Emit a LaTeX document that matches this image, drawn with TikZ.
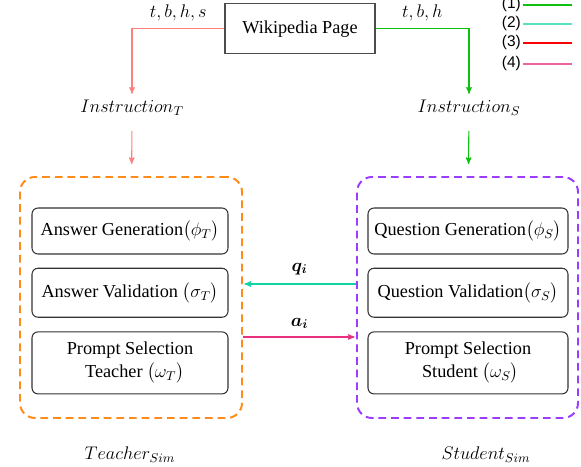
\RequirePackage{fix-cm}
\documentclass[tikz,border=0pt]{standalone}
\usepackage{amsmath}
\usepackage{fontspec}
\setmainfont{Liberation Serif}
\setsansfont{Liberation Sans}
\usetikzlibrary{arrows,positioning}

\definecolor{salmon}{HTML}{FF7F7F}
\definecolor{leafgreen}{HTML}{10C010}
\definecolor{qteal}{HTML}{10D4A4}
\definecolor{apink}{HTML}{E8307F}
\definecolor{simorange}{HTML}{FF8C1A}
\definecolor{simpurple}{HTML}{9B3CFF}

\begin{document}
\begin{tikzpicture}[->,>=stealth',shorten >=1pt,line width=0.75pt,
                    font=\fontsize{13}{16}\selectfont,
                    page node/.style={rectangle,draw=black!70,minimum width=3.75cm,minimum height=1.25cm},
                    sim frame/.style={rectangle,rounded corners=0.375cm,dash pattern=on 5.5pt off 3.5pt,
                                      line width=1.4pt,minimum width=5.55cm,minimum height=6.025cm},
                    module/.style={rectangle,rounded corners=0.15cm,draw=black!80,align=center,minimum height=1.15cm},
                    legend/.style={font=\sffamily\fontsize{11}{12}\selectfont,anchor=east,inner sep=1pt}]

  \useasboundingbox (0,0) rectangle (14.525,-11.675);

  \node[page node] (wiki) at (7.5,-0.72) {Wikipedia Page};
  \node (instT) at (3.3,-2.7) {$Instruction_T$};
  \node (instS) at (11.725,-2.7) {$Instruction_S$};

  \node[sim frame,draw=simorange] (teacher) at (3.275,-7.4375) {};
  \node[sim frame,draw=simpurple,minimum width=5.525cm] (student) at (11.6875,-7.4375) {};

  \node[module,minimum width=4.9cm] (genT) at (3.25,-5.775) {Answer Generation$\big(\phi_T\big)$};
  \node[module,minimum width=4.9cm,minimum height=1.225cm] (valT) [below=0.33cm of genT] {Answer Validation $\big(\sigma_T\big)$};
  \node[module,minimum width=4.9cm,minimum height=1.55cm] (selT) [below=0.34cm of valT] {Prompt Selection\\ \ \ Teacher $\big(\omega_T\big)$};

  \node[module,minimum width=5cm] (genS) at (11.7,-5.775) {Question Generation$\big(\phi_S\big)$};
  \node[module,minimum width=5cm,minimum height=1.225cm] (valS) [below=0.33cm of genS] {Question Validation$\big(\sigma_S\big)$};
  \node[module,minimum width=5cm,minimum height=1.55cm] (selS) [below=0.34cm of valS] {Prompt Selection\\ \ Student $\big(\omega_S\big)$};

  \node (simT) at (3.25,-11.375) {$Teacher_{Sim}$};
  \node (simS) at (12.15,-11.375) {$Student_{Sim}$};

  \node[legend] (l1) at (13.07,-0.125) {(1)};
  \node[legend] (l2) at (13.07,-0.6) {(2)};
  \node[legend] (l3) at (13.07,-1.075) {(3)};
  \node[legend] (l4) at (13.07,-1.6) {(4)};
  \coordinate (e1) at (14.33,-0.125);
  \coordinate (e2) at (14.33,-0.6);
  \coordinate (e3) at (14.33,-1.075);
  \coordinate (e4) at (14.33,-1.6);

  \draw[salmon] (wiki.west) -| node[pos=0.25,above=2pt,black] {$t,b,h,s$} (instT.north);
  \draw[leafgreen] (wiki.east) -| node[pos=0.25,above=2pt,black] {$t,b,h$} (instS.north);

  \path[shorten <=0.25cm,shorten >=0.3cm]
    (instT) edge[salmon] (teacher)
    (instS) edge[leafgreen] (student);

  \draw[qteal] ([yshift=0.3375cm]student.west) -- node[above=3pt,black] {$\boldsymbol{q_i}$} ([yshift=0.3375cm]teacher.east);
  \draw[apink] ([yshift=-0.9875cm]teacher.east) -- node[above=2pt,black] {$\boldsymbol{a_i}$} ([yshift=-0.9875cm]student.west);

  \path[-,line width=0.8pt]
    (l1) edge[leafgreen] (e1)
    (l2) edge[qteal!70] (e2)
    (l3) edge[red] (e3)
    (l4) edge[apink!75] (e4);
\end{tikzpicture}
\end{document}
